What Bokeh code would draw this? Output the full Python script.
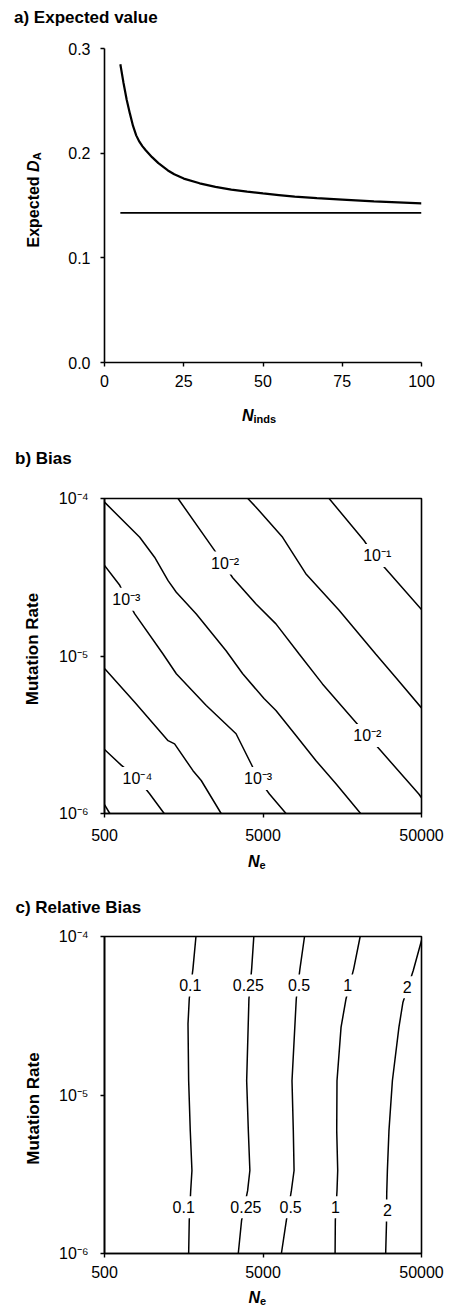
import math
from bokeh.plotting import figure
from bokeh.layouts import column
from bokeh.models import Label, FixedTicker, Range1d
from bokeh.core.properties import value
from bokeh.embed import file_html
from bokeh.resources import INLINE

# ---------------- data: panel a ----------------
n_inds = [5, 6, 7, 8, 9, 10, 11, 12, 13, 15, 17, 20, 22, 25, 30, 35, 40, 45,
          50, 55, 60, 67, 75, 85, 100]
expected_da = [0.285, 0.267, 0.251, 0.238, 0.226, 0.217, 0.211, 0.2065, 0.2028,
               0.1962, 0.1905, 0.1835, 0.1798, 0.1757, 0.1712, 0.1678, 0.1652,
               0.1632, 0.1615, 0.160, 0.1585, 0.157, 0.1557, 0.154, 0.152]
limit_n = [5, 100]
limit_da = [0.143, 0.143]
a_x_ticks = [0, 25, 50, 75, 100]
a_x_tick_labels = ["0", "25", "50", "75", "100"]
a_y_ticks = [0.0, 0.1, 0.2, 0.3]
a_y_tick_labels = ["0.0", "0.1", "0.2", "0.3"]

# ---------------- shared log axes (panels b, c) ----------------
ne_ticks = [500, 5000, 50000]
ne_tick_labels = ["500", "5000", "50000"]
mu_ticks = [1e-6, 1e-5, 1e-4]
mu_tick_labels = ["10⁻⁶", "10⁻⁵", "10⁻⁴"]

# ---------------- data: panel b (bias contours) ----------------
b_c1_ne = [500, 540]
b_c1_mu = [1.14e-6, 1.0e-6]
b_c2_ne = [500, 640, 807, 960, 1190]
b_c2_mu = [2.55e-6, 2.02e-6, 1.67e-6, 1.34e-6, 1.0e-6]
b_c3_ne = [502, 776, 1259, 1384, 1808, 2038, 2723]
b_c3_mu = [8.30e-6, 5.09e-6, 2.90e-6, 2.77e-6, 1.87e-6, 1.62e-6, 1.0e-6]
b_c4_ne = [500, 624, 687, 776, 1170, 1419, 2193, 3381, 4205, 4656, 5488, 6985]
b_c4_mu = [3.76e-5, 2.81e-5, 2.31e-5, 1.85e-5, 1.03e-5, 7.71e-6, 4.85e-6,
           3.21e-6, 2.07e-6, 1.67e-6, 1.33e-6, 1.0e-6]
b_c5_ne = [500, 834, 1035, 1259, 1419, 1897, 2925, 3723, 5073, 6034, 8072,
           10770, 14390, 20650]
b_c5_mu = [9.48e-5, 5.67e-5, 4.24e-5, 3.01e-5, 2.54e-5, 1.85e-5, 1.08e-5,
           7.71e-6, 5.37e-6, 4.51e-6, 3.13e-6, 2.17e-6, 1.55e-6, 1.0e-6]
b_c6_ne = [1455, 2472, 2858, 3221, 4518, 6034, 8453, 11860, 19230, 22750,
           27610, 48090, 50000]
b_c6_mu = [1.0e-4, 4.68e-5, 3.76e-5, 3.14e-5, 2.14e-5, 1.60e-5, 1.03e-5,
           6.65e-6, 3.80e-6, 3.13e-6, 2.51e-6, 1.33e-6, 1.26e-6]
b_c7_ne = [4010, 4518, 6649, 9311, 15100, 25700, 34300, 50000]
b_c7_mu = [1.0e-4, 8.81e-5, 5.67e-5, 3.33e-5, 1.95e-5, 1.03e-5, 7.33e-6, 4.68e-6]
b_c8_ne = [13060, 21680, 25060, 29700, 50000]
b_c8_mu = [1.0e-4, 5.41e-5, 4.35e-5, 3.58e-5, 1.97e-5]
b_label_text = ["10⁻¹", "10⁻²", "10⁻³", "10⁻²", "10⁻³", "10⁻⁴"]
b_label_ne = [26300, 2884, 687, 22750, 4656, 807]
b_label_mu = [4.35e-5, 3.89e-5, 2.29e-5, 3.13e-6, 1.67e-6, 1.67e-6]

# ---------------- data: panel c (relative bias contours) ----------------
c_mu_a = [1.0e-4, 6.25e-5, 4.05e-5, 2.81e-5, 1.23e-5, 5.97e-6, 3.34e-6, 2.49e-6, 1.62e-6, 1.0e-6]
c_mu_b = [1.0e-4, 6.25e-5, 4.05e-5, 1.23e-5, 5.97e-6, 3.34e-6, 2.49e-6, 1.62e-6, 1.0e-6]
c_01_ne = [1888, 1807, 1713, 1682, 1698, 1738, 1781, 1749, 1713, 1698]
c_025_ne = [4375, 4240, 4076, 3944, 4040, 4132, 3999, 3664, 3491]
c_05_ne = [9141, 8551, 8110, 7620, 7766, 7852, 7551, 7021, 6531]
c_1_ne = [20510, 18670, 16710, 15540, 14650, 14590, 14800, 14650, 14300, 14250]
c_1_mu = [1.0e-4, 6.25e-5, 4.05e-5, 2.68e-5, 1.23e-5, 5.97e-6, 3.34e-6, 2.49e-6, 1.62e-6, 1.0e-6]
c_2_ne = [50000, 44360, 38190, 36030, 32760, 31170, 30460, 30170, 30060, 29710]
c_2_mu = [9.44e-5, 6.10e-5, 3.85e-5, 2.68e-5, 1.23e-5, 5.97e-6, 3.34e-6, 2.38e-6, 1.54e-6, 1.0e-6]
c_label_text = ["0.1", "0.25", "0.5", "1", "2", "0.1", "0.25", "0.5", "1", "2"]
c_label_ne = [1738, 4040, 8435, 17090, 40640, 1580, 3898, 7466, 14300, 30460]
c_label_mu = [4.91e-5, 4.91e-5, 4.91e-5, 4.91e-5, 4.79e-5,
              1.96e-6, 1.96e-6, 1.96e-6, 1.96e-6, 1.87e-6]

FONT = "Liberation Sans"
W = 449


def make_fig(height, left, right, top, bottom, xr, yr, log=False):
    kw = dict(width=W, height=height, min_border_left=left, min_border_right=right,
              min_border_top=top, min_border_bottom=bottom, x_range=xr, y_range=yr,
              output_backend="svg", toolbar_location=None, tools="")
    if log:
        kw.update(x_axis_type="log", y_axis_type="log")
    p = figure(**kw)
    p.grid.visible = False
    p.background_fill_color = "white"
    p.border_fill_color = "white"
    for ax in (p.xaxis[0], p.yaxis[0]):
        ax.axis_line_width = 1.6
        ax.axis_line_color = "black"
        ax.major_tick_line_width = 1.4
        ax.major_tick_line_color = "black"
        ax.major_tick_in = 0
        ax.major_tick_out = 4
        ax.minor_tick_line_color = None
        ax.major_label_text_font = FONT
        ax.major_label_text_font_size = "16px"
        ax.major_label_text_color = "black"
    return p


def set_ticks(ax, ticks, labels, standoff):
    ax.ticker = FixedTicker(ticks=ticks)
    ax.major_label_overrides = dict(zip(ticks, labels))
    ax.major_label_standoff = standoff


def outer_text(p, anchor, anchor_px, cx, cy, text, size, style="bold",
               align="left", baseline="alphabetic", angle=0.0):
    """Text placed outside the frame: anchored at a data point at the frame
    centre and shifted by a pixel offset to the wanted canvas position."""
    p.text(x=[anchor[0]], y=[anchor[1]], text=[text],
           x_offset=cx - anchor_px[0], y_offset=cy - anchor_px[1], angle=angle,
           text_font=value(FONT), text_font_size=value(f"{size}px"),
           text_font_style=value(style), text_align=value(align),
           text_baseline=value(baseline), text_color="black", level="overlay")


# ================= panel a =================
pa = make_fig(430, 104, 27, 48, 68, Range1d(0, 100), Range1d(0, 0.3))
pa.outline_line_color = None
set_ticks(pa.xaxis[0], a_x_ticks, a_x_tick_labels, 8)
set_ticks(pa.yaxis[0], a_y_ticks, a_y_tick_labels, 10)
pa.line(n_inds, expected_da, line_color="black", line_width=2.2)
pa.line(limit_n, limit_da, line_color="black", line_width=1.6)
ANa, APa = (50, 0.15), (104 + 159, 48 + 157)
outer_text(pa, ANa, APa, 14, 17, "a) Expected value", 17, baseline="middle")
outer_text(pa, ANa, APa, 242, 415, "N", 16, style="bold italic")
outer_text(pa, ANa, APa, 253.5, 418.5, "inds", 11)
outer_text(pa, ANa, APa, 33.5, 247, "Expected ", 16, angle=math.pi / 2)
outer_text(pa, ANa, APa, 33.5, 171.4, "D", 16, style="bold italic", angle=math.pi / 2)
outer_text(pa, ANa, APa, 37, 159.8, "A", 11, angle=math.pi / 2)

# ================= panel b =================
pb = make_fig(440, 103, 28, 68, 57, Range1d(500, 50000), Range1d(1e-6, 1e-4), log=True)
pb.outline_line_color = "black"
pb.outline_line_width = 1.6
set_ticks(pb.xaxis[0], ne_ticks, ne_tick_labels, 11)
set_ticks(pb.yaxis[0], mu_ticks, mu_tick_labels, 12)
for xs, ys in [(b_c1_ne, b_c1_mu), (b_c2_ne, b_c2_mu), (b_c3_ne, b_c3_mu),
               (b_c4_ne, b_c4_mu), (b_c5_ne, b_c5_mu), (b_c6_ne, b_c6_mu),
               (b_c7_ne, b_c7_mu), (b_c8_ne, b_c8_mu)]:
    pb.line(xs, ys, line_color="black", line_width=1.5)
for t, x, y in zip(b_label_text, b_label_ne, b_label_mu):
    pb.add_layout(Label(x=x, y=y, text=t, text_font=FONT, text_font_size="16px",
                        text_align="center", text_baseline="middle", text_color="black",
                        background_fill_color="white", padding=3))
ANb, APb = (5000, 1e-5), (103 + 159, 68 + 157.5)
outer_text(pb, ANb, APb, 14, 28, "b) Bias", 17, baseline="middle")
outer_text(pb, ANb, APb, 247, 431, "N", 16, style="bold italic")
outer_text(pb, ANb, APb, 258.5, 434, "e", 11)
outer_text(pb, ANb, APb, 31.5, 218.5, "Mutation Rate", 17, align="center", angle=math.pi / 2)

# ================= panel c =================
pc = make_fig(438, 102, 28, 66, 55, Range1d(500, 50000), Range1d(1e-6, 1e-4), log=True)
pc.outline_line_color = "black"
pc.outline_line_width = 1.6
set_ticks(pc.xaxis[0], ne_ticks, ne_tick_labels, 8)
set_ticks(pc.yaxis[0], mu_ticks, mu_tick_labels, 12)
for xs, ys in [(c_01_ne, c_mu_a), (c_025_ne, c_mu_b), (c_05_ne, c_mu_b),
               (c_1_ne, c_1_mu), (c_2_ne, c_2_mu)]:
    pc.line(xs, ys, line_color="black", line_width=1.5)
for t, x, y in zip(c_label_text, c_label_ne, c_label_mu):
    pc.add_layout(Label(x=x, y=y, text=t, text_font=FONT, text_font_size="16px",
                        text_align="center", text_baseline="middle", text_color="black",
                        background_fill_color="white", padding=5))
ANc, APc = (5000, 1e-5), (102 + 159.5, 66 + 158.5)
outer_text(pc, ANc, APc, 14, 37, "c) Relative Bias", 17, baseline="middle")
outer_text(pc, ANc, APc, 247, 427, "N", 16, style="bold italic")
outer_text(pc, ANc, APc, 258.5, 430, "e", 11)
outer_text(pc, ANc, APc, 31.5, 238, "Mutation Rate", 17, align="center", angle=math.pi / 2)

layout = column(pa, pb, pc, spacing=0)
open("out.html", "w").write(file_html(layout, INLINE))
